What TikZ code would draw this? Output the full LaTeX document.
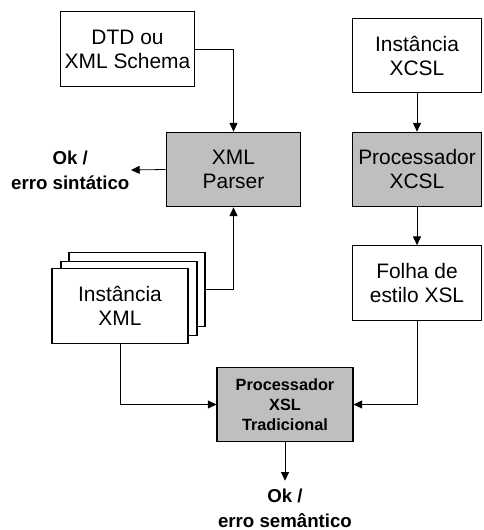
\documentclass[tikz,border=0pt]{standalone}
\usepackage{fontspec}
\setmainfont{Liberation Sans}
\usetikzlibrary{arrows.meta}

\tikzset{
	blk/.style={draw,line width=0.8pt,align=center,inner sep=0,minimum width=101pt,minimum height=56pt,font=\fontsize{15.7}{18}\selectfont},
	proc/.style={blk,fill=black!25},
	res/.style={align=center,inner sep=1pt,font=\fontsize{14}{18.5}\selectfont\bfseries},
	arr/.style={line width=0.6pt,-{Triangle[length=6.5pt,width=6pt]}}
}

\begin{document}
\begin{tikzpicture}[x=0.75pt,y=-0.75pt]
	\useasboundingbox (0,0) rectangle (483,530);
	\node[blk] (dtd) at (127.5,49) {DTD ou\\XML Schema};
	\node[proc] (parser) at (233.5,169.5) {XML\\Parser};
	\node[blk,minimum width=97pt] (xcsl) at (417,55.5) {Instância\\XCSL};
	\node[proc,minimum width=97pt] (pxcsl) at (417,169.5) {Processador\\XCSL};
	\node[blk,minimum width=97pt] (folha) at (417,283) {Folha de\\estilo XSL};
	\node[blk,fill=white,minimum width=102pt] (xml3) at (137,289.5) {};
	\node[blk,fill=white,minimum width=102pt] (xml2) at (129,298.5) {};
	\node[blk,fill=white,minimum width=102pt] (xml) at (120,306) {Instância\\XML};
	\node[proc,minimum width=102pt,font=\fontsize{12.2}{15}\selectfont\bfseries] (pxsl) at (285,404.5) {Processador\\XSL\\Tradicional};
	\node[res,anchor=east] (oksin) at (131,170) {Ok /\\erro sintático};
	\node[res,anchor=south] (oksem) at (285,529) {Ok /\\erro semântico};
	\draw[arr] (dtd.east) -| (parser.north);
	\draw[arr] (xml3.east) -| (parser.south);
	\draw[arr] (parser.west) -- (oksin.east);
	\draw[arr] (xcsl) -- (pxcsl);
	\draw[arr] (pxcsl) -- (folha);
	\draw[arr] (xml.south) |- (pxsl.west);
	\draw[arr] (folha.south) |- (pxsl.east);
	\draw[arr,shorten >=5pt] (pxsl) -- (oksem);
\end{tikzpicture}
\end{document}
